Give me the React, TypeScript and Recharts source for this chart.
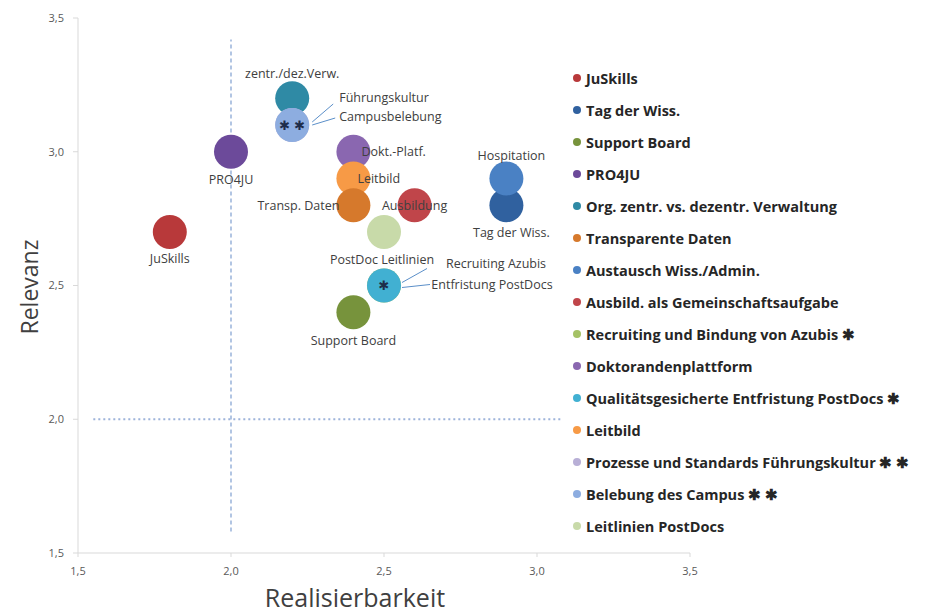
import React from 'react';
import { ScatterChart, Scatter, XAxis, YAxis, ReferenceLine } from 'recharts';

document.body.style.margin = '0';

// Legend names (in the order of the legend)
const seriesNames = [
  'JuSkills',
  'Tag der Wiss.',
  'Support Board',
  'PRO4JU',
  'Org. zentr. vs. dezentr. Verwaltung',
  'Transparente Daten',
  'Austausch Wiss./Admin.',
  'Ausbild. als Gemeinschaftsaufgabe',
  'Recruiting und Bindung von Azubis ✱',
  'Doktorandenplattform',
  'Qualitätsgesicherte Entfristung PostDocs ✱',
  'Leitbild',
  'Prozesse und Standards Führungskultur ✱ ✱',
  'Belebung des Campus ✱ ✱',
  'Leitlinien PostDocs',
];
const realisierbarkeit = [1.8, 2.9, 2.4, 2.0, 2.2, 2.4, 2.9, 2.6, 2.5, 2.4, 2.5, 2.4, 2.2, 2.2, 2.5];
const relevanz = [2.7, 2.8, 2.4, 3.0, 3.2, 2.8, 2.9, 2.8, 2.5, 3.0, 2.5, 2.9, 3.1, 3.1, 2.7];
const pointLabels = [
  'JuSkills',
  'Tag der Wiss.',
  'Support Board',
  'PRO4JU',
  'zentr./dez.Verw.',
  'Transp. Daten',
  'Hospitation',
  'Ausbildung',
  'Recruiting Azubis',
  'Dokt.-Platf.',
  'Entfristung PostDocs',
  'Leitbild',
  'Führungskultur',
  'Campusbelebung',
  'PostDoc Leitlinien',
];
const bubbleMarks = ['', '', '', '', '', '', '', '', '', '', '✱', '', '', '✱ ✱', ''];
const axisTicks = [1.5, 2.0, 2.5, 3.0, 3.5];

const colors = [
  '#b8393a', '#30619f', '#77933c', '#6c4a9a', '#2f8aa5',
  '#d6792c', '#4a81c4', '#c0454a', '#a5c266', '#8a67b0',
  '#41b0d2', '#f79a46', '#b8afd6', '#8dade0', '#c8daa9',
];

// label placement relative to bubble centre (px)
const labelStyle: Record<number, { dx: number; dy: number; anchor: string; leader?: number[] }> = {
  0: { dx: 0, dy: 27, anchor: 'middle' },
  1: { dx: 5, dy: 27, anchor: 'middle' },
  2: { dx: 0, dy: 28, anchor: 'middle' },
  3: { dx: 0, dy: 28, anchor: 'middle' },
  4: { dx: 0, dy: -25, anchor: 'middle' },
  5: { dx: -14, dy: 0, anchor: 'end' },
  6: { dx: 5, dy: -23, anchor: 'middle' },
  7: { dx: 0, dy: 0, anchor: 'middle' },
  8: { dx: 112, dy: -22, anchor: 'middle', leader: [18, -3, 43, -17] },
  9: { dx: 8, dy: 0, anchor: 'start' },
  10: { dx: 108, dy: -1, anchor: 'middle', leader: [18, 2, 46, -1] },
  11: { dx: 4, dy: 0, anchor: 'start' },
  12: { dx: 47, dy: -27, anchor: 'start', leader: [20, -3, 41, -21] },
  13: { dx: 47, dy: -8, anchor: 'start', leader: [20, 0, 43, -7] },
  14: { dx: -2, dy: 28, anchor: 'middle' },
};

const FONT = '"Open Sans", Lato, sans-serif';
const fmt = (v: number) => v.toFixed(1).replace('.', ',');

const makeShape = (i: number) => (props: any) => {
  const { cx, cy } = props;
  const ls = labelStyle[i];
  return (
    <g>
      <circle cx={cx} cy={cy} r={17} fill={colors[i]} />
      {bubbleMarks[i] && (
        <text x={cx} y={cy} dy="0.35em" textAnchor="middle" fontSize={13} fill="#1f2d4a" fontFamily="DejaVu Sans">
          {bubbleMarks[i]}
        </text>
      )}
      {ls.leader && (
        <line
          x1={cx + ls.leader[0]}
          y1={cy + ls.leader[1]}
          x2={cx + ls.leader[2]}
          y2={cy + ls.leader[3]}
          stroke="#5b8fc9"
          strokeWidth={1}
        />
      )}
      <text
        x={cx + ls.dx}
        y={cy + ls.dy}
        dy="0.35em"
        textAnchor={ls.anchor}
        fontSize={12.5}
        fill="#404040"
        fontFamily={FONT}
      >
        {pointLabels[i]}
      </text>
    </g>
  );
};

// draw order: Recruiting below Entfristung, Prozesse below Belebung
const drawOrder = [0, 1, 2, 3, 4, 6, 7, 9, 11, 5, 14, 8, 10, 12, 13];

export default function App() {
  return (
    <div style={{ width: 925, height: 613, background: '#fff', position: 'relative' }}>
      <ScatterChart width={925} height={613} margin={{ top: 18, right: 235, bottom: 30, left: 38 }}>
        <XAxis
          type="number"
          dataKey="x"
          domain={[1.5, 3.5]}
          ticks={axisTicks}
          tickFormatter={fmt}
          height={30}
          stroke="#d9d9d9"
          tickSize={4}
          tickMargin={10}
          tick={{ fontSize: 11, fill: '#595959', fontFamily: FONT }}
          label={{
            content: () => (
              <text x={355} y={598} dy="0.35em" textAnchor="middle" fontSize={25} fill="#404040" fontFamily={FONT}>
                Realisierbarkeit
              </text>
            ),
          }}
        />
        <YAxis
          type="number"
          dataKey="y"
          domain={[1.5, 3.5]}
          ticks={axisTicks}
          tickFormatter={fmt}
          width={40}
          stroke="#d9d9d9"
          tickSize={5}
          tickMargin={9}
          tick={{ fontSize: 11, fill: '#595959', fontFamily: FONT }}
          label={{
            content: () => (
              <text
                x={30}
                y={287}
                dy="0.35em"
                textAnchor="middle"
                fontSize={23}
                fill="#404040"
                fontFamily={FONT}
                transform="rotate(-90 30 287)"
              >
                Relevanz
              </text>
            ),
          }}
        />
        <ReferenceLine
          segment={[{ x: 2, y: 1.58 }, { x: 2, y: 3.42 }]}
          stroke="#7f9fd0"
          strokeDasharray="4 3"
          strokeWidth={1.2}
        />
        <ReferenceLine
          segment={[{ x: 1.55, y: 2 }, { x: 3.08, y: 2 }]}
          stroke="#9db3da"
          strokeDasharray="2 3"
          strokeWidth={2}
        />
        {drawOrder.map((i) => (
          <Scatter
            key={seriesNames[i]}
            name={seriesNames[i]}
            data={[{ x: realisierbarkeit[i], y: relevanz[i] }]}
            fill={colors[i]}
            shape={makeShape(i)}
            isAnimationActive={false}
          />
        ))}
      </ScatterChart>
      <div
        style={{
          position: 'absolute',
          left: 573,
          top: 62,
          fontFamily: FONT,
          fontWeight: 'bold',
          fontSize: 14.5,
          color: '#262626',
        }}
      >
        {seriesNames.map((name, i) => (
          <div key={name} style={{ display: 'flex', alignItems: 'center', height: 32 }}>
            <span
              style={{
                width: 8,
                height: 8,
                borderRadius: 4,
                background: colors[i],
                marginRight: 5,
                display: 'inline-block',
              }}
            />
            <span>{name}</span>
          </div>
        ))}
      </div>
    </div>
  );
}
